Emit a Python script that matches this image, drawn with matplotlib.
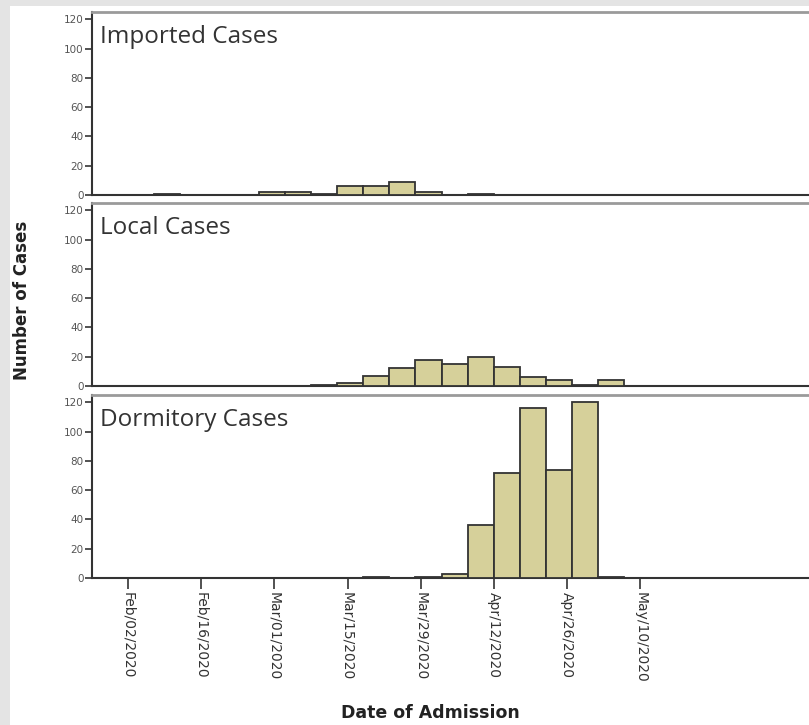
import numpy as np
import matplotlib
matplotlib.use("Agg")
from matplotlib import pyplot as plt
from matplotlib.patches import Rectangle
import matplotlib.dates as mdates

# 5-day bins, first bin starts Feb 2 2020
bin_start = np.datetime64("2020-02-02")
bin_days = 5

panels = ["Imported Cases", "Local Cases", "Dormitory Cases"]
# counts per 5-day bin (bin 0 = Feb 2-7, ..., bin 18 = May 2-7)
imported = [0, 1, 0, 0, 0, 2, 2, 1, 6, 6, 9, 2, 0, 1, 0, 0, 0, 0, 0]
local = [0, 0, 0, 0, 0, 0, 0, 1, 2, 7, 12, 18, 15, 20, 13, 6, 4, 1, 4]
dormitory = [0, 0, 0, 0, 0, 0, 0, 0, 0, 1, 0, 1, 3, 36, 72, 116, 74, 120, 1]

tick_dates = ["2020-02-02", "2020-02-16", "2020-03-01", "2020-03-15",
              "2020-03-29", "2020-04-12", "2020-04-26", "2020-05-10"]
yticks = [0, 20, 40, 60, 80, 100, 120]

W, H = 809, 725
fig = plt.figure(figsize=(W / 100, H / 100), dpi=100)
fig.patch.set_facecolor("#e4e4e4")
fig.patches.append(Rectangle((10 / W, 0), 1, 1 - 6 / H, transform=fig.transFigure,
                             facecolor="white", edgecolor="none", zorder=-10))

bar_color = "#d6d09a"
left = 92 / W
width = (822 - 92) / W
tops = [12, 203, 395]
panel_h = 183

edges = bin_start + np.arange(len(imported)) * np.timedelta64(bin_days, "D")
edges_num = mdates.date2num(edges.astype("datetime64[D]").astype("O"))
x0 = mdates.date2num(np.datetime64("2020-02-02").astype("O"))

axes = []
for i, (name, counts) in enumerate(zip(panels, [imported, local, dormitory])):
    top = tops[i]
    ax = fig.add_axes([left, 1 - (top + panel_h) / H, width, panel_h / H])
    ax.set_facecolor("none")
    counts = np.array(counts)
    m = counts > 0
    ax.bar(edges_num[m], counts[m], width=bin_days, align="edge",
           color=bar_color, edgecolor="#333333", linewidth=1.3, zorder=3)
    ax.set_xlim(x0 - 6.9, x0 + 132.8)
    ax.set_ylim(0, 125)
    ax.set_yticks(yticks)
    ax.tick_params(axis="y", direction="out", length=5, width=1.2, color="#333333",
                   labelsize=7.5, labelcolor="#555555", pad=1)
    ax.spines["left"].set_color("#333333")
    ax.spines["left"].set_linewidth(1.5)
    ax.spines["bottom"].set_color("#333333")
    ax.spines["bottom"].set_linewidth(1.5)
    ax.spines["top"].set_color("#9a9a9a")
    ax.spines["top"].set_linewidth(2)
    ax.spines["right"].set_visible(False)
    ax.text(8 / 730, 0.93, name, transform=ax.transAxes, fontsize=17.5,
            family="Open Sans", color="#333333", va="top", ha="left")
    ticks_num = [mdates.date2num(np.datetime64(d).astype("O")) for d in tick_dates]
    ax.set_xticks(ticks_num)
    if i < 2:
        ax.tick_params(axis="x", length=0, labelbottom=False)
    else:
        ax.xaxis.set_major_formatter(mdates.DateFormatter("%b/%d/%Y"))
        ax.tick_params(axis="x", direction="out", length=8, width=1.2, color="#333333",
                       labelsize=10, labelcolor="#333333", labelrotation=-90, pad=2)
    axes.append(ax)

fig.text(22 / W, 1 - 300 / H, "Number of Cases", rotation=90, fontsize=12,
         fontweight="bold", color="#222222", ha="center", va="center")
fig.text(430 / W, 1 - 713 / H, "Date of Admission", fontsize=12.5,
         fontweight="bold", color="#222222", ha="center", va="center")

fig.savefig("out.png", dpi=100, facecolor=fig.get_facecolor())
